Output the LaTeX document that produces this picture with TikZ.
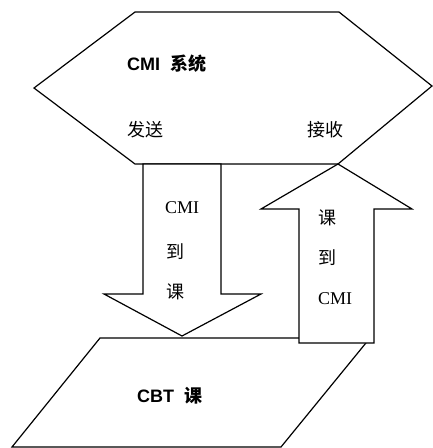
\documentclass[tikz,border=0pt]{standalone}
\usepackage{fontspec}
\setmainfont{Liberation Serif}
\setsansfont{Liberation Sans}
\newfontfamily\cjk{Noto Sans CJK SC}
\begin{document}
\begin{tikzpicture}[x=1pt,y=-1pt,
  shape line/.style={draw=black,line width=1.2pt,line join=miter,fill=white},
  lbl/.style={font=\fontsize{18}{20}\selectfont,anchor=west,inner sep=0pt},
  boldlbl/.style={font=\fontsize{18}{20}\selectfont\sffamily\bfseries,anchor=west,inner sep=0pt}]
\useasboundingbox (0,0) rectangle (433,448);
% hexagon: CMI system
\draw[shape line] (135,12) -- (339,12) -- (432,86) -- (338,164) -- (135,164) -- (34,88) -- cycle;
% parallelogram: CBT course
\draw[shape line] (100,338) -- (370,338) -- (281,447) -- (12,447) -- cycle;
% down arrow
\draw[shape line] (143,164) -- (221,164) -- (221,294) -- (261,294) -- (182,336) -- (104,294) -- (143,294) -- cycle;
% up arrow
\draw[shape line] (338,164) -- (412,209) -- (374,209) -- (374,343) -- (299,343) -- (299,209) -- (261,209) -- cycle;
% texts
\node[boldlbl] (sys) at (127,64) {CMI\ \ {\cjk\bfseries 系统}};
\node[lbl] (send) at (127,130) {\cjk 发送};
\node[lbl] (recv) at (307,130) {\cjk 接收};
\node[lbl] (d1) at (165,208) {CMI};
\node[lbl] (d2) at (166,252) {\cjk 到};
\node[lbl] (d3) at (166,292) {\cjk 课};
\node[lbl] (u1) at (318,218) {\cjk 课};
\node[lbl] (u2) at (318,258) {\cjk 到};
\node[lbl] (u3) at (318,299) {CMI};
\node[boldlbl] (cbt) at (137,396) {CBT\ \ {\cjk\bfseries 课}};
\end{tikzpicture}
\end{document}
